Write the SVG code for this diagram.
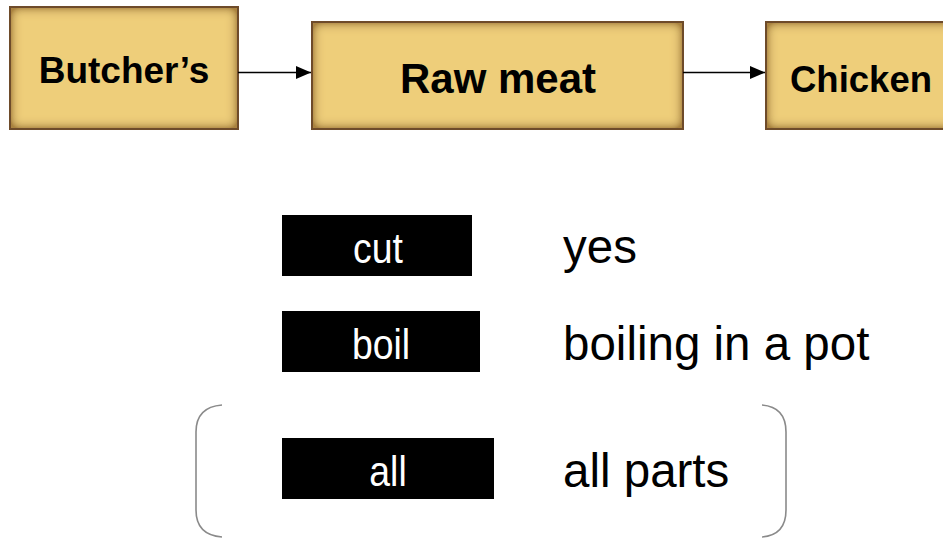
<svg xmlns="http://www.w3.org/2000/svg" width="943" height="539" viewBox="0 0 943 539">
<style>
.box{fill:#EECE7A;filter:url(#inner)}
.edge{fill:none;stroke:#6E4B2A;stroke-width:2}
.t{font-family:"Liberation Sans",Arial,sans-serif;font-weight:bold;fill:#000;text-anchor:middle}
.lab{fill:#000}
.lt{font-family:"Liberation Sans",Arial,sans-serif;font-size:42px;fill:#fff;text-anchor:middle}
.rt{font-family:"Liberation Sans",Arial,sans-serif;font-size:47.5px;fill:#000}
.conn{stroke:#000;stroke-width:1.6;fill:none;marker-end:url(#ah)}
.br{stroke:#8a8a8a;stroke-width:1.6;fill:none}
</style>
<defs>
<filter id="inner" x="0" y="0" width="1" height="1">
<feGaussianBlur in="SourceAlpha" stdDeviation="6" result="b"/>
<feComposite in="SourceAlpha" in2="b" operator="arithmetic" k2="2" k3="-2" result="e"/>
<feFlood flood-color="#9A7030" flood-opacity="0.85"/>
<feComposite in2="e" operator="in" result="sh"/>
<feMerge><feMergeNode in="SourceGraphic"/><feMergeNode in="sh"/></feMerge>
</filter>
<marker id="ah" markerWidth="15" markerHeight="13" refX="15" refY="6.5" orient="auto" markerUnits="userSpaceOnUse">
<path d="M0,0 L15,6.5 L0,13 Z" fill="#000"/>
</marker>
</defs>
<g id="butchers">
<rect class="box" x="10" y="7" width="228" height="122"/>
<rect class="edge" x="10" y="7" width="228" height="122"/>
<text class="t" x="124" y="83" font-size="37">Butcher’s</text>
</g>
<g id="rawmeat">
<rect class="box" x="312" y="22" width="371" height="107"/>
<rect class="edge" x="312" y="22" width="371" height="107"/>
<text class="t" x="498" y="93" font-size="42">Raw meat</text>
</g>
<g id="chicken">
<rect class="box" x="766" y="22" width="200" height="107"/>
<rect class="edge" x="766" y="22" width="200" height="107"/>
<text class="t" x="861" y="92" font-size="36.5">Chicken</text>
</g>
<g id="connectors">
<line class="conn" x1="238" y1="72.5" x2="311" y2="72.5"/>
<line class="conn" x1="683" y1="72.5" x2="765" y2="72.5"/>
</g>
<g id="cut">
<rect class="lab" x="282" y="215" width="190" height="61"/>
<text class="lt" transform="translate(378,263) scale(0.89,1)">cut</text>
</g>
<text class="rt" x="563" y="263" font-size="44">yes</text>
<g id="boil">
<rect class="lab" x="282" y="311" width="198" height="61"/>
<text class="lt" transform="translate(381,359) scale(0.89,1)">boil</text>
</g>
<text class="rt" x="563" y="360">boiling in a pot</text>
<g id="all">
<rect class="lab" x="282" y="438" width="212" height="61"/>
<text class="lt" transform="translate(388,486) scale(0.89,1)">all</text>
</g>
<text class="rt" x="563" y="487">all parts</text>
<g id="bracket">
<path class="br" d="M222,405 Q196,407 196,432 L196,510 Q196,535 222,537"/>
<path class="br" d="M762,405 Q786,407 786,432 L786,510 Q786,535 762,537"/>
</g>
</svg>
